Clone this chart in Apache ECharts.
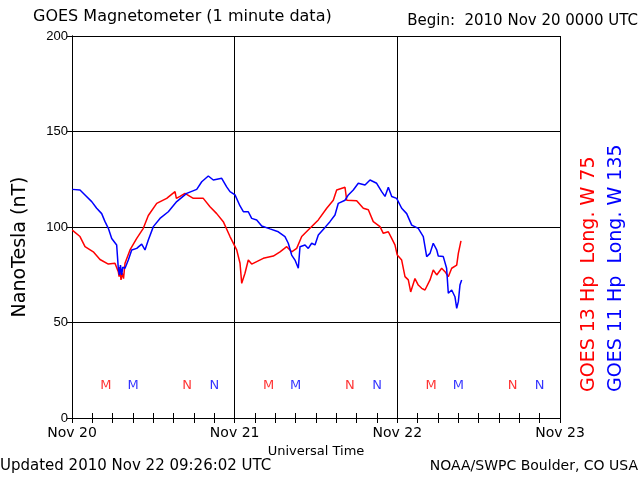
<!DOCTYPE html>
<html>
<head>
<meta charset="utf-8">
<script src="https://cdn.jsdelivr.net/npm/echarts@6/dist/echarts.min.js"></script>
<style>html,body{margin:0;padding:0;background:#fff}#c{width:640px;height:480px}</style>
</head>
<body>
<div id="c"></div>
<script>
// Hours since 2010 Nov 20 00:00 UTC
var dayLabels = ['Nov 20', 'Nov 21', 'Nov 22', 'Nov 23'];
var yTicks = [0, 50, 100, 150, 200];

var goes13Hours = [0.04,1.18,1.92,3.14,4.13,5.36,6.34,6.83,6.95,7.05,7.23,7.4,7.6,7.82,8.56,9.55,10.52,11.26,12.50,13.97,15.20,15.4,15.93,16.67,17.90,19.37,20.36,21.35,22.32,23.31,24.30,24.79,25.04,25.52,26.01,26.51,28.22,29.70,30.69,31.68,32.41,33.15,33.89,35.11,36.34,37.58,38.55,39.05,40.28,40.53,42.00,42.98,43.72,44.45,45.44,45.93,46.67,47.17,47.65,47.99,48.64,49.13,49.62,49.97,50.60,51.09,51.59,52.08,52.82,53.30,53.81,54.54,55.03,55.52,56.02,56.76,57.00,57.39];
var goes13Values = [98.4,95,89.7,87,83,80.6,81,76.6,74,79,72.3,76,73,81,88,94,99.3,106,112.4,115,118.5,115,116,117.6,115,115,110.6,107,102.8,95,88,81,70.5,75.8,82.7,80.6,83.6,84.8,87,89.7,87,88.8,95,99.3,103.7,109.8,114,119.4,120.8,114,113.8,109.8,109,102.8,100.2,96.7,97.5,94,90.6,85.3,82.7,74,72.3,66,73,69.6,67.9,67,72.3,77.5,74.9,78.4,76.6,74,78.4,80,86.2,92.7];

var goes11Hours = [0.04,1.18,1.92,2.91,3.64,4.38,4.87,5.36,5.86,6.59,6.83,7.0,7.15,7.33,7.5,7.82,8.31,8.81,9.55,10.28,10.77,11.26,12.0,12.98,14.21,15.45,16.92,18.40,19.14,20.11,20.85,22.09,22.82,23.31,24.05,24.79,25.28,26.01,26.51,27.25,27.99,29.21,30.44,31.42,31.91,32.41,32.90,33.39,33.64,34.38,34.86,35.36,35.85,36.34,37.33,38.06,38.80,39.29,40.28,40.77,41.50,42.24,43.23,43.97,44.95,45.69,46.18,46.67,47.17,47.90,48.64,49.38,50.12,51.09,51.83,52.33,52.82,53.30,53.81,54.04,54.78,55.27,55.52,56.02,56.50,56.76,57.00,57.24,57.49];
var goes11Values = [119.7,119.4,116.8,113.3,109.8,107,102.8,99.3,94,90.6,78.4,75,80,74.9,79,78.4,82.7,88,88.8,91,88,93.2,100.2,104.5,108,113.3,117.6,119.7,123.7,126.7,124.6,125.5,121,118.5,116.8,111,108,108,104.5,103.7,100.5,99,97.5,95,91.5,85.3,82.7,78.4,89.7,90.6,88.8,91.5,90.6,95.8,99.8,102.8,106.3,112.4,114,116.8,119.4,122.9,122,124.6,122.9,118.5,116,120.8,116,115,109.8,107,101,99.3,95,84.5,86.2,91.5,88,84.8,84.5,78.4,65.3,67,63.5,57.4,60.9,69.6,72.3];

// Local midnight (M) and noon (N) markers, hours since Nov 20 00 UTC
var goes13M = [5, 29, 53];
var goes13N = [17, 41, 65];
var goes11M = [9, 33, 57];
var goes11N = [21, 45, 69];
var markerLevel = 17;

var RED = '#ff0000', BLUE = '#0000ff';
var FONT = '"DejaVu Sans", sans-serif';
var NFONT = 'Liberation Sans, Arial, sans-serif';

function pairs(h, v) { return h.map(function (x, i) { return [x, v[i]]; }); }
function markers(h) { return h.map(function (x) { return [x, markerLevel]; }); }
function markerSeries(h, letter, color) {
  return {
    type: 'scatter', data: markers(h), symbolSize: 1, itemStyle: { color: 'rgba(0,0,0,0)' },
    label: { show: true, position: 'inside', formatter: letter, color: color, fontFamily: FONT, fontSize: 13 },
    silent: true, z: 5
  };
}

var chart = echarts.init(document.getElementById('c'), null, { renderer: 'canvas' });
var baseX = {
  type: 'value', min: 0, max: 72, interval: 24,
  axisLine: { show: true, lineStyle: { color: '#000', width: 1 } },
  axisTick: { show: true, inside: true, length: 5, lineStyle: { color: '#000' } },
  minorTick: { show: true, splitNumber: 8, length: 5, lineStyle: { color: '#000' } },
  splitLine: { show: false }
};
chart.setOption({
  animation: false,
  backgroundColor: '#fff',
  grid: { left: 72, right: 80, top: 36, bottom: 62, show: false },
  xAxis: [
    Object.assign({}, baseX, {
      position: 'bottom',
      axisLabel: { show: true, margin: 8, color: '#000', fontFamily: FONT, fontSize: 14,
        formatter: function (v) { return dayLabels[Math.round(v / 24)]; } },
      splitLine: { show: true, lineStyle: { color: '#000', width: 1 } },
      name: 'Universal Time', nameLocation: 'middle', nameGap: 24,
      nameTextStyle: { color: '#000', fontFamily: FONT, fontSize: 13 }
    }),
    Object.assign({}, baseX, { position: 'top', axisLabel: { show: false } })
  ],
  yAxis: [
    {
      type: 'value', min: 0, max: 200, interval: 50, position: 'left',
      axisLine: { show: true, lineStyle: { color: '#000' } },
      axisTick: { show: true, inside: false, length: 5, lineStyle: { color: '#000' } },
      axisLabel: { color: '#000', margin: 4, fontFamily: NFONT, fontSize: 13,
        formatter: function (v) { return yTicks.indexOf(v) >= 0 ? String(v) : ''; } },
      splitLine: { show: true, lineStyle: { color: '#000', width: 1 } }
    },
    {
      type: 'value', min: 0, max: 200, interval: 50, position: 'right',
      axisLine: { show: true, lineStyle: { color: '#000' } },
      axisTick: { show: false }, axisLabel: { show: false }, splitLine: { show: false }
    }
  ],
  series: [
    { type: 'line', name: 'GOES 13', data: pairs(goes13Hours, goes13Values), showSymbol: false,
      lineStyle: { color: RED, width: 1.5 }, itemStyle: { color: RED }, z: 3 },
    { type: 'line', name: 'GOES 11', data: pairs(goes11Hours, goes11Values), showSymbol: false,
      lineStyle: { color: BLUE, width: 1.5 }, itemStyle: { color: BLUE }, z: 4 },
    markerSeries(goes13M, 'M', RED),
    markerSeries(goes11M, 'M', BLUE),
    markerSeries(goes13N, 'N', RED),
    markerSeries(goes11N, 'N', BLUE)
  ],
  graphic: [
    { type: 'text', left: 33, top: 9, style: { text: 'GOES Magnetometer (1 minute data)', fill: '#000', font: '16px ' + FONT } },
    { type: 'text', right: 2, top: 14, style: { text: 'Begin:  2010 Nov 20 0000 UTC', fill: '#000', font: '15px ' + FONT } },
    { type: 'text', left: 0, top: 459, style: { text: 'Updated 2010 Nov 22 09:26:02 UTC', fill: '#000', font: '15px ' + FONT } },
    { type: 'text', right: 2, top: 459, style: { text: 'NOAA/SWPC Boulder, CO USA', fill: '#000', font: '14px ' + FONT } },
    { type: 'text', x: 20, y: 247, rotation: Math.PI / 2,
      style: { text: 'NanoTesla (nT)', fill: '#000', font: '19px ' + FONT, textAlign: 'center', textVerticalAlign: 'middle' } },
    { type: 'text', x: 589, y: 392, rotation: Math.PI / 2,
      style: { text: 'GOES 13 Hp  Long. W 75', fill: RED, font: '19px ' + FONT, textAlign: 'left', textVerticalAlign: 'middle' } },
    { type: 'text', x: 616, y: 392, rotation: Math.PI / 2,
      style: { text: 'GOES 11 Hp  Long. W 135', fill: BLUE, font: '19px ' + FONT, textAlign: 'left', textVerticalAlign: 'middle' } }
  ]
});
</script>
</body>
</html>
